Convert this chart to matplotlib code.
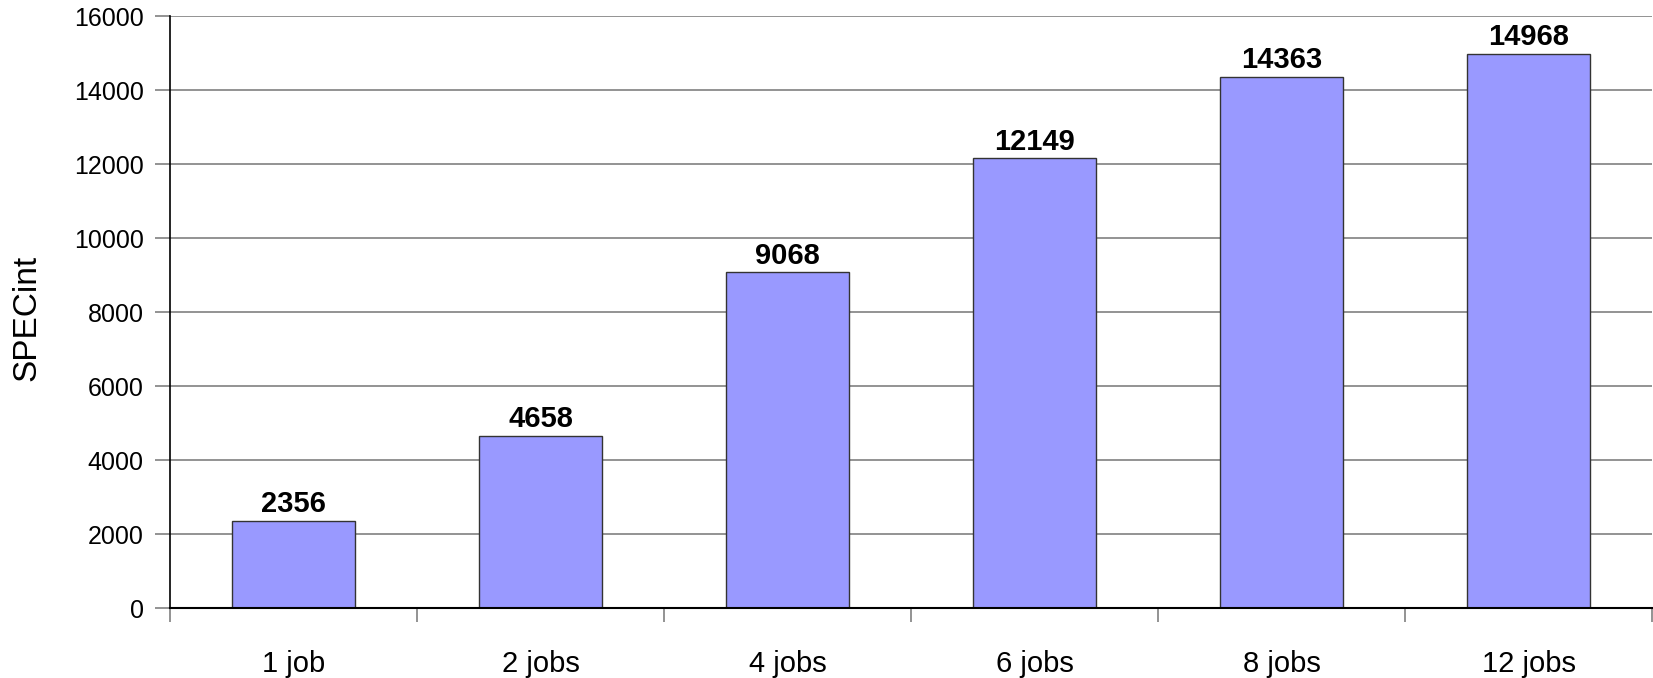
import matplotlib
matplotlib.use("Agg")
import matplotlib.pyplot as plt
import numpy as np
from matplotlib.ticker import FixedLocator

plt.rcParams["font.family"] = ["Liberation Sans", "DejaVu Sans"]

categories = ["1 job", "2 jobs", "4 jobs", "6 jobs", "8 jobs", "12 jobs"]
specint = [2356, 4658, 9068, 12149, 14363, 14968]
yticks = [0, 2000, 4000, 6000, 8000, 10000, 12000, 14000, 16000]

fig = plt.figure(figsize=(16.53, 6.78), dpi=100)
ax = fig.add_axes([170 / 1653, 1 - 608 / 678, (1652 - 170) / 1653, (608 - 16) / 678])

x = np.arange(len(categories))
ax.bar(x, specint, width=0.5, color="#9999ff", edgecolor="#333333", linewidth=1.0, zorder=3)

# value labels over the bars
for xi, v in zip(x, specint):
    ax.annotate(str(v), xy=(xi, v), xytext=(0, 2), textcoords="offset points",
                ha="center", va="bottom", fontsize=21, fontweight="bold", zorder=4)

ax.set_xlim(-0.5, len(categories) - 0.5)
ax.set_ylim(0, 16000)
ax.set_yticks(yticks)
ax.set_yticklabels([str(t) for t in yticks], fontsize=18)
ax.yaxis.grid(True, color="#808080", linewidth=1.2, zorder=0)
ax.set_axisbelow(True)

ax.set_xticks(x)
ax.set_xticklabels(categories, fontsize=21)
ax.xaxis.set_minor_locator(FixedLocator(np.arange(-0.5, len(categories), 1.0)))
ax.tick_params(axis="x", which="major", length=0, pad=30)
ax.tick_params(axis="x", which="minor", length=10, width=1.2, color="#808080", direction="out")
ax.tick_params(axis="y", length=11, width=1.2, color="#808080", direction="out", pad=8)

fig.text(27 / 1653, 1 - 318 / 678, "SPECint", rotation=90, fontsize=24,
         ha="center", va="center")

for side in ["top", "right"]:
    ax.spines[side].set_visible(False)
ax.spines["left"].set_color("black")
ax.spines["left"].set_linewidth(1.2)
ax.spines["bottom"].set_color("black")
ax.spines["bottom"].set_linewidth(1.5)
ax.spines["bottom"].set_zorder(5)

fig.savefig("out.png", dpi=100)
